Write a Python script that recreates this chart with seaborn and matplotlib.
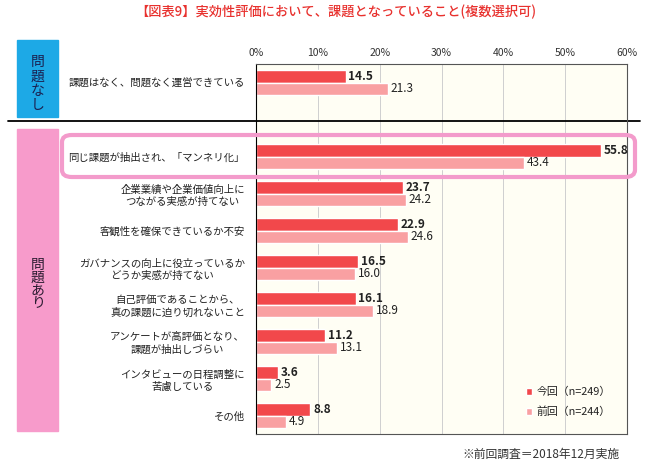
import numpy as np
import pandas as pd
import matplotlib
matplotlib.use("Agg")
import matplotlib.pyplot as plt
from matplotlib.patches import Rectangle, FancyBboxPatch
import seaborn as sns

sns.set_theme(style="white")
plt.rcParams['font.family'] = ['Noto Sans CJK JP', 'DejaVu Sans']

# data
items = [
    "課題はなく、問題なく運営できている",
    " ",
    "同じ課題が抽出され、「マンネリ化」",
    "企業業績や企業価値向上に\nつながる実感が持てない",
    "客観性を確保できているか不安",
    "ガバナンスの向上に役立っているか\nどうか実感が持てない",
    "自己評価であることから、\n真の課題に迫り切れないこと",
    "アンケートが高評価となり、\n課題が抽出しづらい",
    "インタビューの日程調整に\n苦慮している",
    "その他",
]
now_vals = [14.5, np.nan, 55.8, 23.7, 22.9, 16.5, 16.1, 11.2, 3.6, 8.8]
prev_vals = [21.3, np.nan, 43.4, 24.2, 24.6, 16.0, 18.9, 13.1, 2.5, 4.9]
series = ["今回（n=249）", "前回（n=244）"]
ticks = [0, 10, 20, 30, 40, 50, 60]

df = pd.DataFrame({
    "item": items * 2,
    "series": [series[0]] * len(items) + [series[1]] * len(items),
    "value": now_vals + prev_vals,
})

W, H = 650, 473
fig = plt.figure(figsize=(W / 100, H / 100), dpi=100)
fig.patch.set_facecolor("white")
ax = fig.add_axes([256 / W, 1 - 434 / H, (627 - 256) / W, (434 - 64) / H])
ax.set_facecolor("#FFFEF4")

sns.barplot(data=df, x="value", y="item", hue="series", order=items,
            hue_order=series, palette=["#F2484B", "#F9A0A2"],
            orient="h", width=0.70, saturation=1, ax=ax, legend=True)

ax.set_xlim(0, 60)
ax.set_ylim(9.5, -0.5)
ax.set_xticks(ticks)
ax.set_xticklabels([f"{t}%" for t in ticks], fontsize=7.5, color="#333333")
ax.xaxis.tick_top()
ax.tick_params(axis="x", length=0, pad=4)
ax.tick_params(axis="y", length=0, pad=8)
ax.grid(axis="x", color="#CFCFCF", linewidth=0.7)
ax.set_axisbelow(True)
ax.set_xlabel("")
ax.set_ylabel("")
for s in ax.spines.values():
    s.set_color("#555555")
    s.set_linewidth(0.8)
ax.spines["left"].set_color("black")

for lab in ax.get_yticklabels():
    lab.set_fontsize(7.5)
    lab.set_color("#222222")
    lab.set_multialignment("center")
    lab.set_linespacing(1.25)

for i, cont in enumerate(ax.containers):
    labels = ["" if np.isnan(v) else f"{v:.1f}" for v in cont.datavalues]
    ax.bar_label(cont, labels=labels, padding=2, fontsize=8.5,
                 fontweight="bold" if i == 0 else "normal", color="#222222")

leg = ax.legend(frameon=False, loc="center left",
                bbox_to_anchor=((516 - 256) / 371, (434 - 402) / 370),
                fontsize=7.8, handlelength=0.6, handleheight=0.6,
                handletextpad=0.4, labelspacing=0.9)
for t in leg.get_texts():
    t.set_color("#222222")

# separator line
ax.plot([-248 / 371, 384 / 371], [1.04, 1.04], color="black", lw=1.3,
        transform=ax.get_yaxis_transform(), clip_on=False)

# group boxes
fig.patches.append(Rectangle((17 / W, 1 - 117 / H), 41 / W, 77 / H,
                             transform=fig.transFigure, color="#1DA9E6"))
fig.patches.append(Rectangle((17 / W, 1 - 431 / H), 41 / W, 302 / H,
                             transform=fig.transFigure, color="#F79BCB"))
for k, ch in enumerate("問題なし"):
    fig.text(37.5 / W, 1 - (62 + 14.5 * k) / H, ch, ha="center", va="center",
             fontsize=10, color="#1A2050")
for k, ch in enumerate("問題あり"):
    fig.text(37.5 / W, 1 - (265 + 12.5 * k) / H, ch, ha="center", va="center",
             fontsize=10, color="#2A1A30")

# highlight box
fig.patches.append(FancyBboxPatch((62 / W, 1 - 177 / H), 573 / W, 42 / H,
                                  boxstyle="round,pad=0,rounding_size=0.015",
                                  transform=fig.transFigure, fill=False,
                                  edgecolor="#F39BCB", linewidth=3, zorder=5))

fig.text(336 / W, 1 - 12 / H, "【図表9】実効性評価において、課題となっていること(複数選択可)",
         ha="center", va="center", fontsize=9.5, color="#E8312E",
         fontweight="medium")
fig.text(620 / W, 1 - 454 / H, "※前回調査＝2018年12月実施", ha="right",
         va="center", fontsize=8.5, color="#333333")

fig.savefig("out.png", dpi=100)
